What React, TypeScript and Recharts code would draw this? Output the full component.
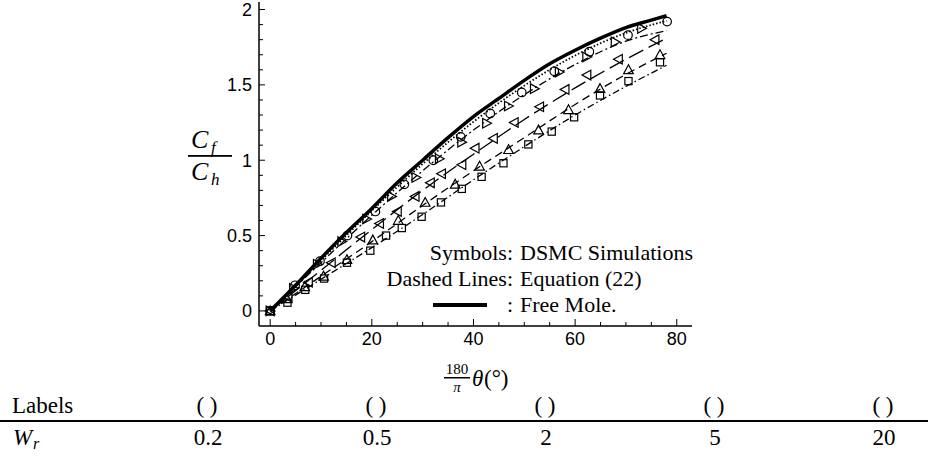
import React from 'react';
import { ComposedChart, Line, Scatter, XAxis, YAxis } from 'recharts';

// ---------- data ----------
const freeMolTheta = [0, 5, 10, 15, 20, 25, 30, 35, 40, 45, 50, 55, 60, 65, 70, 75, 78];
const freeMolCf = [0, 0.17, 0.35, 0.52, 0.68, 0.85, 1.0, 1.15, 1.29, 1.41, 1.53, 1.64, 1.73, 1.81, 1.88, 1.93, 1.96];

const eqTheta = [0, 10, 20, 30, 40, 50, 60, 70, 78];
const eqCircle = [0, 0.335, 0.665, 0.975, 1.255, 1.495, 1.695, 1.845, 1.925];
const eqRTri = [0, 0.32, 0.635, 0.93, 1.2, 1.435, 1.635, 1.79, 1.86];
const eqLTri = [0, 0.27, 0.54, 0.8, 1.04, 1.27, 1.48, 1.67, 1.81];
const eqDelta = [0, 0.23, 0.46, 0.7, 0.93, 1.15, 1.37, 1.57, 1.71];
const eqSquare = [0, 0.21, 0.42, 0.64, 0.87, 1.09, 1.3, 1.49, 1.63];

const circleTheta = [0, 4.9, 9.8, 15.2, 20.7, 26.4, 32.1, 37.5, 43.3, 49.5, 55.9, 62.8, 70.4, 78.1];
const circleCf = [0, 0.17, 0.33, 0.5, 0.66, 0.84, 1.0, 1.155, 1.31, 1.45, 1.59, 1.72, 1.83, 1.92];

const rTriTheta = [0, 4.6, 9.3, 14.1, 19.0, 23.9, 28.7, 33.3, 37.7, 42.6, 46.9, 52.0, 56.9, 62.3, 67.9, 73.1];
const rTriCf = [0, 0.15, 0.31, 0.46, 0.61, 0.76, 0.885, 1.01, 1.12, 1.245, 1.36, 1.475, 1.585, 1.685, 1.785, 1.875];

const lTriTheta = [0, 3.5, 7.5, 12.0, 17.8, 21.5, 25.0, 28.5, 31.5, 33.7, 37.7, 40.3, 43.9, 48.0, 53.0, 58.0, 62.3, 68.5, 75.7];
const lTriCf = [0, 0.09, 0.19, 0.32, 0.49, 0.58, 0.66, 0.76, 0.85, 0.91, 0.97, 1.08, 1.145, 1.25, 1.355, 1.47, 1.565, 1.67, 1.8];

const deltaTheta = [0, 3.3, 6.8, 10.5, 15.1, 20.2, 25.2, 30.5, 36.4, 41.2, 46.9, 52.8, 58.7, 64.9, 70.5, 76.7];
const deltaCf = [0, 0.08, 0.16, 0.23, 0.34, 0.47, 0.6, 0.72, 0.84, 0.96, 1.07, 1.2, 1.335, 1.475, 1.6, 1.7];

const squareTheta = [0, 3.4, 6.9, 10.6, 15.1, 19.7, 22.8, 25.9, 29.8, 33.6, 37.7, 41.6, 45.9, 50.8, 55.4, 59.8, 64.9, 70.5, 76.7];
const squareCf = [0, 0.055, 0.14, 0.215, 0.32, 0.4, 0.5, 0.55, 0.625, 0.72, 0.81, 0.89, 0.98, 1.105, 1.19, 1.285, 1.43, 1.525, 1.65];

const xTicks = [0, 5, 10, 15, 20, 25, 30, 35, 40, 45, 50, 55, 60, 65, 70, 75, 80];
const xMajor = [0, 20, 40, 60, 80];
const yTicks = [0, 0.1, 0.2, 0.3, 0.4, 0.5, 0.6, 0.7, 0.8, 0.9, 1, 1.1, 1.2, 1.3, 1.4, 1.5, 1.6, 1.7, 1.8, 1.9, 2];
const yMajor = [0, 0.5, 1, 1.5, 2];

const tableLabels = ['( )', '( )', '( )', '( )', '( )'];
const tableWr = ['0.2', '0.5', '2', '5', '20'];

// ---------- helpers ----------
const pts = (xs: number[], ys: number[]) => xs.map((x, i) => ({ x, y: ys[i] }));
const isMajor = (v: number, list: number[]) => list.some((m) => Math.abs(m - v) < 1e-6);

const SANS = 'Liberation Sans, Arial, sans-serif';
const SERIF = 'Liberation Serif, Times New Roman, serif';
const serif = (size: number, italic = false): React.CSSProperties => ({
  fontFamily: SERIF,
  fontSize: size,
  fontStyle: italic ? 'italic' : 'normal',
});

const XTick = (props: any) => {
  const { x, y, payload } = props;
  const v = payload.value;
  const major = isMajor(v, xMajor);
  return (
    <g>
      <line x1={x} x2={x} y1={y} y2={y - (major ? 7 : 4)} stroke="#000" strokeWidth={1} />
      {major && (
        <text x={x} y={y + 19} textAnchor="middle" style={{ fontFamily: SANS, fontSize: 18 }} fill="#000">
          {v}
        </text>
      )}
    </g>
  );
};

const YTick = (props: any) => {
  const { x, y, payload } = props;
  const v = payload.value;
  const major = isMajor(v, yMajor);
  return (
    <g>
      <line x1={x} x2={x + (major ? 6 : 4)} y1={y} y2={y} stroke="#000" strokeWidth={1} />
      {major && (
        <text x={x - 7} y={y + 6.5} textAnchor="end" style={{ fontFamily: SANS, fontSize: 18 }} fill="#000">
          {String(v)}
        </text>
      )}
    </g>
  );
};

const CircleShape = (p: any) => <circle cx={p.cx} cy={p.cy} r={4.3} fill="none" stroke="#000" strokeWidth={1.2} />;
const RTriShape = (p: any) => (
  <polygon
    points={`${p.cx - 4},${p.cy - 4.8} ${p.cx - 4},${p.cy + 4.8} ${p.cx + 4.8},${p.cy}`}
    fill="none"
    stroke="#000"
    strokeWidth={1.2}
  />
);
const LTriShape = (p: any) => (
  <polygon
    points={`${p.cx + 4},${p.cy - 4.8} ${p.cx + 4},${p.cy + 4.8} ${p.cx - 4.8},${p.cy}`}
    fill="none"
    stroke="#000"
    strokeWidth={1.2}
  />
);
const DeltaShape = (p: any) => (
  <polygon
    points={`${p.cx},${p.cy - 5} ${p.cx - 4.8},${p.cy + 3.8} ${p.cx + 4.8},${p.cy + 3.8}`}
    fill="none"
    stroke="#000"
    strokeWidth={1.2}
  />
);
const SquareShape = (p: any) => (
  <rect x={p.cx - 3.6} y={p.cy - 3.6} width={7.2} height={7.2} fill="none" stroke="#000" strokeWidth={1.2} />
);

export default function App() {
  return (
    <div style={{ position: 'absolute', left: 0, top: 0, width: 928, height: 458, background: '#fff' }}>
      <ComposedChart
        width={928}
        height={458}
        margin={{ top: 2, right: 236, bottom: 102, left: 199 }}
      >
        <XAxis
          dataKey="x"
          type="number"
          domain={[-2.2, 83]}
          ticks={xTicks}
          interval={0}
          allowDataOverflow
          tickSize={0}
          tickMargin={0}
          tickLine={false}
          axisLine={{ stroke: '#000', strokeWidth: 1.5 }}
          tick={<XTick />}
          height={30}
        />
        <YAxis
          dataKey="y"
          type="number"
          domain={[-0.1, 2.05]}
          ticks={yTicks}
          interval={0}
          allowDataOverflow
          tickSize={0}
          tickMargin={0}
          tickLine={false}
          axisLine={{ stroke: '#000', strokeWidth: 1.5 }}
          tick={<YTick />}
          width={60}
        />
        <Line data={pts(eqTheta, eqSquare)} dataKey="y" type="monotone" stroke="#000" strokeWidth={1.3} strokeDasharray="7 3 1.5 3" dot={false} isAnimationActive={false} />
        <Line data={pts(eqTheta, eqDelta)} dataKey="y" type="monotone" stroke="#000" strokeWidth={1.3} strokeDasharray="8 5" dot={false} isAnimationActive={false} />
        <Line data={pts(eqTheta, eqLTri)} dataKey="y" type="monotone" stroke="#000" strokeWidth={1.3} strokeDasharray="16 6" dot={false} isAnimationActive={false} />
        <Line data={pts(eqTheta, eqRTri)} dataKey="y" type="monotone" stroke="#000" strokeWidth={1.3} strokeDasharray="8 3 2 3" dot={false} isAnimationActive={false} />
        <Line data={pts(eqTheta, eqCircle)} dataKey="y" type="monotone" stroke="#000" strokeWidth={1.8} strokeDasharray="1.5 2" dot={false} isAnimationActive={false} />
        <Line data={pts(freeMolTheta, freeMolCf)} dataKey="y" type="monotone" stroke="#000" strokeWidth={3.5} dot={false} isAnimationActive={false} />
        <Scatter data={pts(squareTheta, squareCf)} dataKey="y" shape={SquareShape} isAnimationActive={false} />
        <Scatter data={pts(deltaTheta, deltaCf)} dataKey="y" shape={DeltaShape} isAnimationActive={false} />
        <Scatter data={pts(lTriTheta, lTriCf)} dataKey="y" shape={LTriShape} isAnimationActive={false} />
        <Scatter data={pts(rTriTheta, rTriCf)} dataKey="y" shape={RTriShape} isAnimationActive={false} />
        <Scatter data={pts(circleTheta, circleCf)} dataKey="y" shape={CircleShape} isAnimationActive={false} />
      </ComposedChart>

      <svg width={928} height={458} style={{ position: 'absolute', left: 0, top: 0, pointerEvents: 'none' }}>
        {/* legend */}
        <g fill="#000">
          <text x={513} y={260} textAnchor="end" style={serif(22)}>Symbols:</text>
          <text x={520} y={260} style={serif(22)}>DSMC Simulations</text>
          <text x={513} y={286} textAnchor="end" style={serif(22)}>Dashed Lines:</text>
          <text x={520} y={286} style={serif(22)}>Equation (22)</text>
          <rect x={433} y={303} width={54} height={4} fill="#000" />
          <text x={513} y={312} textAnchor="end" style={serif(22)}>:</text>
          <text x={520} y={312} style={serif(22)}>Free Mole.</text>
        </g>

        {/* y label: Cf / Ch */}
        <g fill="#000">
          <text x={191} y={148} style={serif(26, true)}>C</text>
          <text x={211} y={153} style={serif(17, true)}>f</text>
          <rect x={188} y={155} width={44} height={1.8} fill="#000" />
          <text x={191} y={180} style={serif(26, true)}>C</text>
          <text x={211} y={185} style={serif(17, true)}>h</text>
        </g>

        {/* x label: 180/pi theta (deg) */}
        <g fill="#000">
          <text x={457} y={374} textAnchor="middle" style={serif(15)}>180</text>
          <rect x={444} y={377} width={26} height={1.5} fill="#000" />
          <text x={457} y={392} textAnchor="middle" style={serif(15, true)}>π</text>
          <text x={472} y={386} style={serif(23, true)}>θ</text>
          <text x={484} y={386} style={serif(23)}>(°)</text>
        </g>

        {/* table */}
        <g fill="#000">
          <text x={12} y={413} style={serif(23)}>Labels</text>
          {tableLabels.map((t, i) => (
            <text key={'l' + i} x={207 + i * 169} y={413} textAnchor="middle" style={serif(23)}>{t}</text>
          ))}
          <rect x={0} y={420} width={928} height={2} fill="#000" />
          <text x={13} y={445} style={serif(23, true)}>W</text>
          <text x={33} y={449} style={serif(16, true)}>r</text>
          {tableWr.map((t, i) => (
            <text key={'w' + i} x={208 + i * 169} y={445} textAnchor="middle" style={serif(23)}>{t}</text>
          ))}
        </g>
      </svg>
    </div>
  );
}
